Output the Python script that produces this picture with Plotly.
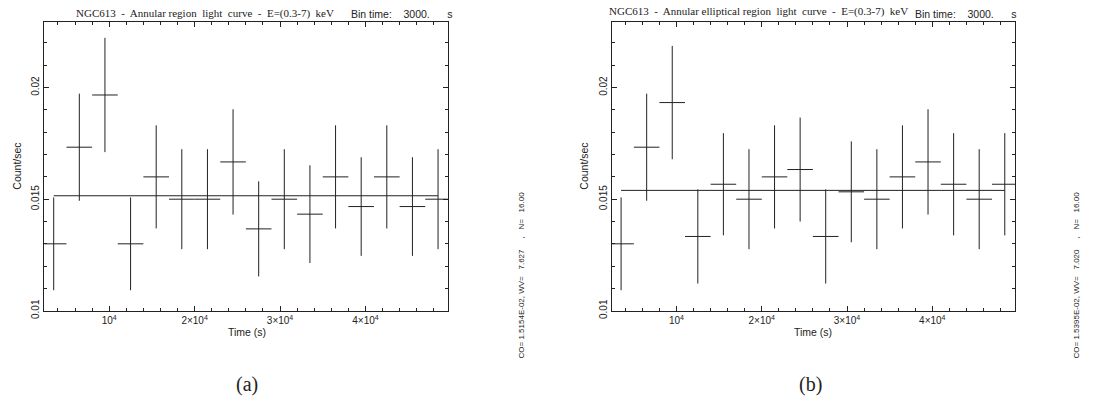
import plotly.graph_objects as go

# ---------------- data ----------------
bin_time = 3000.0
times = [3500, 6500, 9500, 12500, 15500, 18500, 21500, 24500,
         27500, 30500, 33500, 36500, 39500, 42500, 45500, 48500]

rate_a = [0.01300, 0.01733, 0.01967, 0.01300, 0.01600, 0.01500, 0.01500, 0.01667,
          0.01367, 0.01500, 0.01433, 0.01600, 0.01467, 0.01600, 0.01467, 0.01500]
err_a = [0.00208, 0.00240, 0.00256, 0.00208, 0.00231, 0.00224, 0.00224, 0.00236,
         0.00213, 0.00224, 0.00219, 0.00231, 0.00221, 0.00231, 0.00221, 0.00224]
mean_a = 0.015154

rate_b = [0.01300, 0.01733, 0.01933, 0.01333, 0.01567, 0.01500, 0.01600, 0.01633,
          0.01333, 0.01533, 0.01500, 0.01600, 0.01667, 0.01567, 0.01500, 0.01567]
err_b = [0.00208, 0.00240, 0.00254, 0.00211, 0.00229, 0.00224, 0.00231, 0.00233,
         0.00211, 0.00226, 0.00224, 0.00231, 0.00236, 0.00229, 0.00224, 0.00229]
mean_b = 0.015395

x_tickvals = [10000, 20000, 30000, 40000]
x_ticktext = ["10<sup>4</sup>", "2×10<sup>4</sup>", "3×10<sup>4</sup>", "4×10<sup>4</sup>"]
y_tickvals = [0.01, 0.015, 0.02]
y_ticktext = ["0.01", "0.015", "0.02"]

title_a = "NGC613  -  Annular region  light  curve  -  E=(0.3-7)  keV"
title_b = "NGC613  -  Annular elliptical region  light  curve  -  E=(0.3-7)  keV"
bin_label = "Bin time:    3000.      s"
stat_a = "CO= 1.5154E-02, WV=   7.627     ,   N=   16.00"
stat_b = "CO= 1.5395E-02, WV=   7.020     ,   N=   16.00"

# ---------------- figure ----------------
W, H = 1095, 407
SANS = "Liberation Sans, Arial, sans-serif"
SERIF = "Liberation Serif, Times New Roman, serif"
INK = "#222222"

def px(x):
    return x / W

def py(y):
    return 1 - y / H

fig = go.Figure()

def add_panel(rates, errs, mean, xa, ya):
    fig.add_trace(go.Scatter(
        x=times, y=rates, mode="markers",
        marker=dict(size=1, color="rgba(0,0,0,0)"),
        error_y=dict(type="data", array=errs, visible=True, color=INK, thickness=1, width=0),
        error_x=dict(type="constant", value=bin_time / 2, visible=True, color=INK, thickness=1, width=0),
        xaxis=xa, yaxis=ya, showlegend=False, hoverinfo="skip"))
    fig.add_trace(go.Scatter(
        x=[times[0], times[-1]], y=[mean, mean], mode="lines",
        line=dict(color=INK, width=1),
        xaxis=xa, yaxis=ya, showlegend=False, hoverinfo="skip"))

add_panel(rate_a, err_a, mean_a, "x", "y")
add_panel(rate_b, err_b, mean_b, "x2", "y2")

def xaxis_cfg(domain, anchor):
    return dict(domain=domain, anchor=anchor, range=[2400, 49700],
                tickvals=x_tickvals, ticktext=x_ticktext,
                ticks="inside", ticklen=5, tickcolor=INK, tickwidth=1,
                minor=dict(dtick=2000, tick0=0, ticks="inside", ticklen=3, tickcolor=INK, tickwidth=1),
                showline=True, linecolor=INK, linewidth=1, mirror="ticks",
                showgrid=False, zeroline=False,
                tickfont=dict(family=SANS, size=10, color=INK))

def yaxis_cfg(anchor):
    return dict(domain=[py(317), py(22)], anchor=anchor, range=[0.01, 0.02296],
                tickvals=y_tickvals, ticktext=y_ticktext, tickangle=-90,
                ticks="inside", ticklen=5, tickcolor=INK, tickwidth=1,
                minor=dict(dtick=0.001, tick0=0.01, ticks="inside", ticklen=3, tickcolor=INK, tickwidth=1),
                showline=True, linecolor=INK, linewidth=1, mirror="ticks",
                showgrid=False, zeroline=False,
                tickfont=dict(family=SANS, size=10, color=INK))

fig.update_layout(
    width=W, height=H, margin=dict(l=0, r=0, t=0, b=0),
    paper_bgcolor="white", plot_bgcolor="white",
    xaxis=xaxis_cfg([px(44.3), px(448.3)], "y"),
    yaxis=yaxis_cfg("x"),
    xaxis2=xaxis_cfg([px(611.7), px(1015)], "y2"),
    yaxis2=yaxis_cfg("x2"),
)

def ann(text, x, y, size, family, angle=0, xanchor="center"):
    fig.add_annotation(text=text, x=px(x), y=py(y), xref="paper", yref="paper",
                       showarrow=False, textangle=angle, xanchor=xanchor, yanchor="middle",
                       font=dict(family=family, size=size, color=INK))

# panel (a)
ann(title_a, 74, 14, 11, SERIF, xanchor="left")
ann(bin_label, 349, 14, 10.5, SANS, xanchor="left")
ann("Count/sec", 17, 170, 10.5, SANS, angle=-90)
ann("Time (s)", 246.7, 339, 10.5, SANS)
ann(stat_a, 521, 281, 8, SANS, angle=-90)
ann("(a)", 246.7, 392, 20, SERIF)

# panel (b)
ann(title_b, 606.7, 12, 11, SERIF, xanchor="left")
ann(bin_label, 913, 14, 10.5, SANS, xanchor="left")
ann("Count/sec", 584, 170, 10.5, SANS, angle=-90)
ann("Time (s)", 813.3, 339, 10.5, SANS)
ann(stat_b, 1076, 281, 8, SANS, angle=-90)
ann("(b)", 810, 392, 20, SERIF)

fig.write_html("out.html", config={"displayModeBar": False},
               post_script="document.body.style.margin='0px';")
